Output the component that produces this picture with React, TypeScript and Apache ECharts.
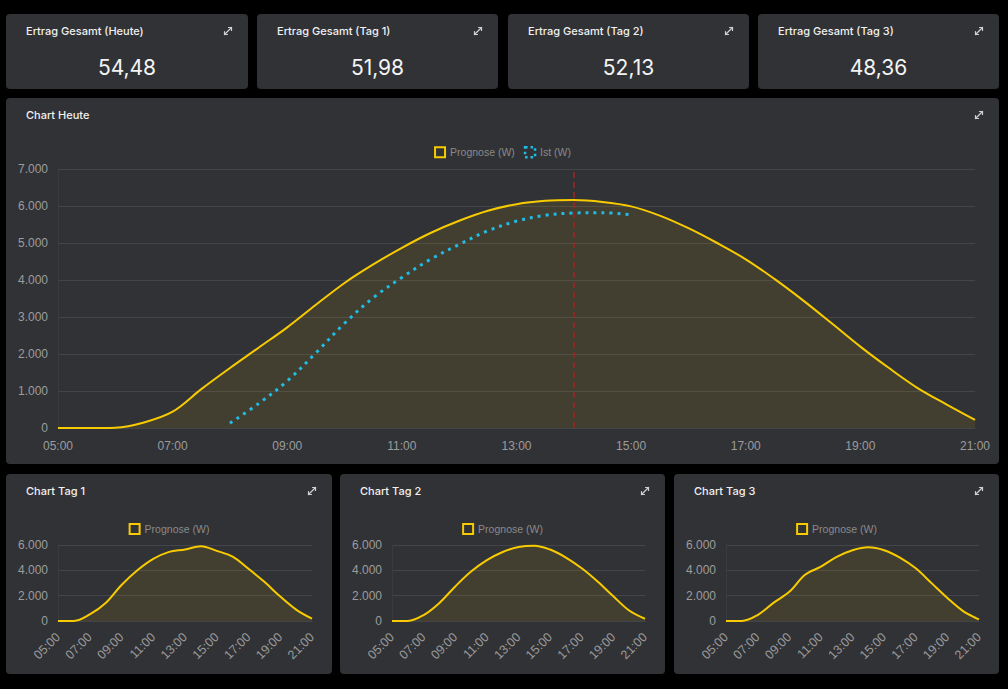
import React, { useEffect, useRef } from "react";
import * as echarts from "echarts";

// ---------- data ----------
const summaryTitles = ["Ertrag Gesamt (Heute)", "Ertrag Gesamt (Tag 1)", "Ertrag Gesamt (Tag 2)", "Ertrag Gesamt (Tag 3)"];
const summaryValues = ["54,48", "51,98", "52,13", "48,36"];

const todayTimes = [
  "05:00", "05:30", "06:00", "06:30", "07:00", "07:30", "08:00", "08:30", "09:00", "09:30",
  "10:00", "10:30", "11:00", "11:30", "12:00", "12:30", "13:00", "13:30", "14:00", "14:30",
  "15:00", "15:30", "16:00", "16:30", "17:00", "17:30", "18:00", "18:30", "19:00", "19:30",
  "20:00", "20:30", "21:00",
];
const todayPrognose = [
  0, 0, 10, 150, 440, 1050, 1620, 2170, 2720, 3330,
  3920, 4420, 4870, 5270, 5600, 5870, 6050, 6140, 6160, 6110,
  5990, 5740, 5400, 5000, 4560, 4030, 3450, 2830, 2200, 1620,
  1080, 640, 220,
];
const todayIst = [
  null, null, null, null, null, null, 130, 660, 1270, 2030,
  2830, 3520, 4070, 4560, 4960, 5330, 5590, 5750, 5810, 5820,
  5760, null, null, null, null, null, null, null, null, null,
  null, null, null,
];
const nowMarker = "14:00";

const hourTimes = [
  "05:00", "06:00", "07:00", "08:00", "09:00", "10:00", "11:00", "12:00", "13:00",
  "14:00", "15:00", "16:00", "17:00", "18:00", "19:00", "20:00", "21:00",
];
const tag1Prognose = [0, 0, 515, 1420, 2840, 4000, 4900, 5460, 5640, 5900, 5540, 5080, 4120, 3090, 1930, 900, 180];
const tag2Prognose = [0, 0, 470, 1430, 2730, 3900, 4800, 5450, 5840, 5950, 5640, 5010, 4160, 3120, 1950, 830, 180];
const tag3Prognose = [0, 0, 470, 1430, 2300, 3650, 4290, 5070, 5590, 5820, 5590, 5010, 4160, 2990, 1820, 780, 130];

// ---------- styles ----------
const YELLOW = "#f7cb00";
const CYAN = "#1fbde6";
const CARD_BG = "#313236";
const GRID_LINE = "#44454a";
const AXIS_TEXT = "#9c9c9c";
const FONT = "'Liberation Sans', Arial, sans-serif";
const TITLE_FONT = "Inter, 'Noto Sans', sans-serif";

const fmt = (v: number) => String(v).replace(/\B(?=(\d{3})+(?!\d))/g, ".");

function Chart({ option, style }: { option: any; style: React.CSSProperties }) {
  const ref = useRef<HTMLDivElement>(null);
  useEffect(() => {
    if (!ref.current) return;
    const chart = echarts.init(ref.current, undefined, { renderer: "svg" });
    chart.setOption(option);
    return () => chart.dispose();
  }, []);
  return <div ref={ref} style={style} />;
}

function ExpandIcon({ right, top }: { right: number; top: number }) {
  return (
    <svg width="10" height="10" viewBox="0 0 10 10" style={{ position: "absolute", right, top }}>
      <g stroke="#d0d0d0" strokeWidth="1.2" fill="none" strokeLinecap="round">
        <line x1="1.5" y1="8.5" x2="8.5" y2="1.5" />
        <polyline points="5.5,1.5 8.5,1.5 8.5,4.5" />
        <polyline points="1.5,5.5 1.5,8.5 4.5,8.5" />
      </g>
    </svg>
  );
}

function Card({ left, top, width, height, title, children }: any) {
  return (
    <div
      style={{
        position: "absolute",
        left,
        top,
        width,
        height,
        background: CARD_BG,
        borderRadius: 4,
        overflow: "hidden",
      }}
    >
      {children}
      <div
        style={{
          position: "absolute",
          left: 20,
          top: 10,
          fontFamily: TITLE_FONT,
          fontSize: 11,
          fontWeight: 500,
          color: "#f0f0f0",
          whiteSpace: "nowrap",
          zIndex: 2,
        }}
      >
        {title}
      </div>
      <ExpandIcon right={15} top={12} />
    </div>
  );
}

function legendItem(name: string, color: string, dotted: boolean) {
  return {
    name,
    icon: "rect",
    itemStyle: {
      color: "rgba(0,0,0,0)",
      borderColor: color,
      borderWidth: dotted ? 2.5 : 2,
      borderType: dotted ? [2.5, 3] : "solid",
    },
  };
}

function baseAxes(times: string[], interval: number, rotate: number, max: number, step: number) {
  return {
    xAxis: {
      type: "category",
      data: times,
      boundaryGap: false,
      axisTick: { show: false },
      axisLine: { show: true, lineStyle: { color: GRID_LINE } },
      axisLabel: {
        interval,
        rotate,
        color: AXIS_TEXT,
        fontSize: rotate ? 12.5 : 12,
        fontFamily: FONT,
        margin: rotate ? 14 : 12,
        showMaxLabel: true,
      },
    },
    yAxis: {
      type: "value",
      min: 0,
      max,
      interval: step,
      axisLine: { show: true, lineStyle: { color: "#3a3b3f" } },
      axisTick: { show: false },
      axisLabel: { color: AXIS_TEXT, fontSize: 12, fontFamily: FONT, margin: 10, formatter: fmt },
      splitLine: { lineStyle: { color: GRID_LINE, width: 1 } },
    },
  };
}

const mainOption = {
  animation: false,
  textStyle: { fontFamily: FONT },
  legend: {
    top: 43,
    left: "center",
    itemWidth: 10,
    itemHeight: 10,
    itemGap: 9,
    textStyle: { color: "#8a8a8a", fontSize: 10.5, fontFamily: FONT },
    data: [legendItem("Prognose (W)", YELLOW, false), legendItem("Ist (W)", CYAN, true)],
  },
  grid: { left: 52, right: 24, top: 71, bottom: 36 },
  ...baseAxes(todayTimes, 3, 0, 7000, 1000),
  series: [
    {
      name: "Prognose (W)",
      type: "line",
      data: todayPrognose,
      smooth: 0.35,
      showSymbol: false,
      lineStyle: { color: YELLOW, width: 2 },
      itemStyle: { color: YELLOW },
      areaStyle: { color: "rgba(245,200,0,0.13)" },
      markLine: {
        silent: true,
        symbol: "none",
        label: { show: false },
        lineStyle: { color: "#a32424", type: [6, 4], width: 1.5 },
        data: [{ xAxis: nowMarker }],
      },
    },
    {
      name: "Ist (W)",
      type: "line",
      data: todayIst,
      smooth: 0.35,
      showSymbol: false,
      lineStyle: { color: CYAN, width: 3, type: [3, 5] },
      itemStyle: { color: CYAN },
    },
  ],
};

function dayOption(values: number[]) {
  return {
    animation: false,
    textStyle: { fontFamily: FONT },
    legend: {
      top: 44,
      left: "center",
      itemWidth: 10,
      itemHeight: 10,
      textStyle: { color: "#8a8a8a", fontSize: 10.5, fontFamily: FONT },
      data: [legendItem("Prognose (W)", YELLOW, false)],
    },
    grid: { left: 52, right: 20, top: 71, bottom: 53 },
    ...baseAxes(hourTimes, 1, 45, 6000, 2000),
    series: [
      {
        name: "Prognose (W)",
        type: "line",
        data: values,
        smooth: 0.35,
        showSymbol: false,
        lineStyle: { color: YELLOW, width: 2 },
        itemStyle: { color: YELLOW },
        areaStyle: { color: "rgba(245,200,0,0.13)" },
      },
    ],
  };
}

const topCards = [
  { left: 6, width: 242 },
  { left: 257, width: 241 },
  { left: 508, width: 241 },
  { left: 758, width: 241 },
];
const bottomCards = [
  { left: 6, width: 326, title: "Chart Tag 1", values: tag1Prognose },
  { left: 340, width: 325, title: "Chart Tag 2", values: tag2Prognose },
  { left: 674, width: 325, title: "Chart Tag 3", values: tag3Prognose },
];

export default function App() {
  useEffect(() => {
    document.body.style.margin = "0";
    document.body.style.background = "#000";
  }, []);
  return (
    <div style={{ position: "fixed", left: 0, top: 0, width: 1008, height: 689, background: "#000", overflow: "hidden" }}>
      {topCards.map((c, i) => (
        <Card key={i} left={c.left} top={14} width={c.width} height={75} title={summaryTitles[i]}>
          <div
            style={{
              position: "absolute",
              left: 0,
              right: 0,
              top: 40,
              textAlign: "center",
              fontFamily: TITLE_FONT,
              fontSize: 21,
              color: "#f4f4f4",
              lineHeight: "28px",
            }}
          >
            {summaryValues[i]}
          </div>
        </Card>
      ))}
      <Card left={6} top={98} width={993} height={366} title="Chart Heute">
        <Chart option={mainOption} style={{ position: "absolute", left: 0, top: 0, width: 993, height: 366 }} />
      </Card>
      {bottomCards.map((c, i) => (
        <Card key={i} left={c.left} top={474} width={c.width} height={200} title={c.title}>
          <Chart option={dayOption(c.values)} style={{ position: "absolute", left: 0, top: 0, width: c.width, height: 200 }} />
        </Card>
      ))}
    </div>
  );
}
